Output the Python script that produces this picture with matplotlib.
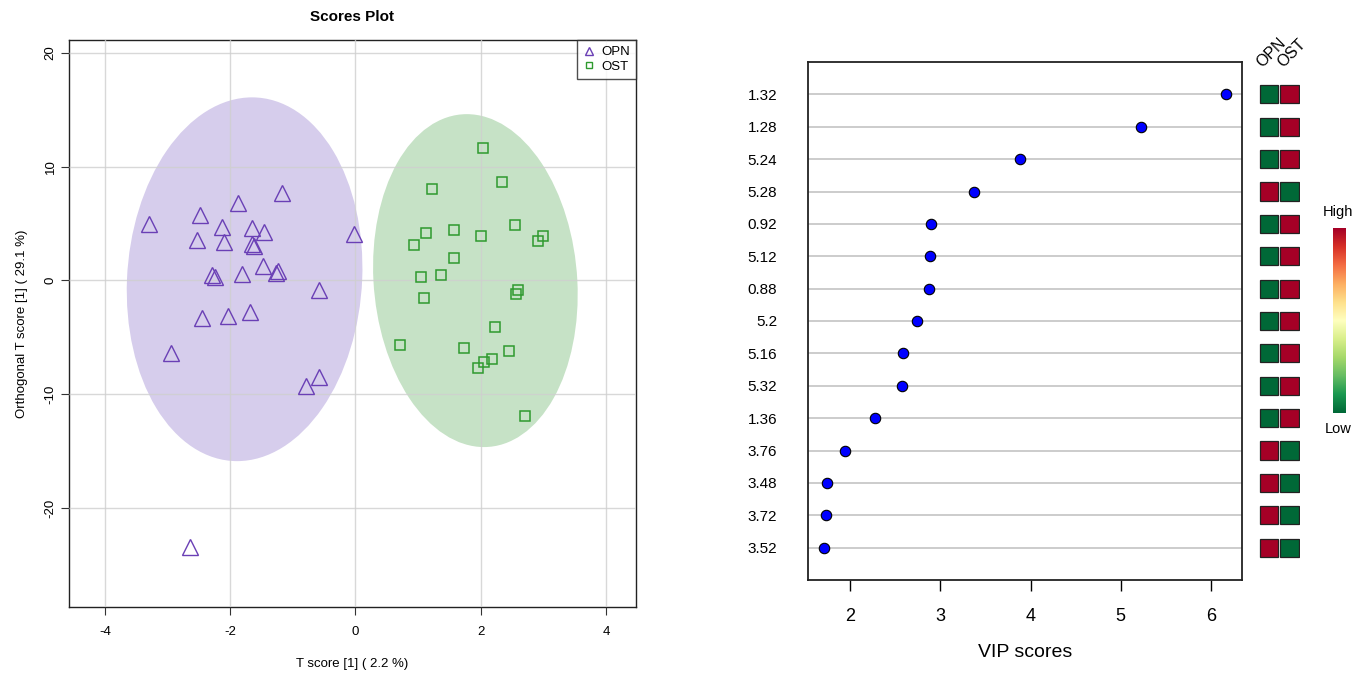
import numpy as np
import matplotlib
matplotlib.use("Agg")
import matplotlib.pyplot as plt
from matplotlib.patches import Ellipse, Rectangle
from matplotlib.lines import Line2D

plt.rcParams['font.family'] = ['Liberation Sans', 'DejaVu Sans']
plt.rcParams['axes.unicode_minus'] = False

# ---------------- data: scores plot ----------------
opn_t = [-3.29, -2.49, -2.53, -2.13, -2.10, -1.87, -1.18, -1.66, -1.46, -1.65, -1.62, -0.02,
         -2.29, -2.24, -1.81, -1.48, -1.27, -1.23, -0.58, -2.45, -2.03, -1.69, -2.94, -0.79,
         -0.59, -2.65]
opn_o = [5.0, 5.8, 3.6, 4.7, 3.4, 6.85, 7.7, 4.6, 4.3, 3.2, 3.0, 4.1,
         0.5, 0.3, 0.6, 1.3, 0.7, 0.8, -0.8, -3.3, -3.1, -2.8, -6.4, -9.3,
         -8.5, -23.4]
ost_t = [2.04, 2.34, 1.23, 2.54, 1.58, 1.12, 2.00, 2.99, 2.92, 0.94, 1.57, 1.37,
         1.04, 2.60, 2.56, 1.09, 2.23, 0.71, 1.74, 2.45, 2.18, 2.06, 1.96, 2.70]
ost_o = [11.68, 8.68, 8.06, 4.91, 4.41, 4.15, 3.88, 3.91, 3.47, 3.09, 2.0, 0.44,
         0.29, -0.85, -1.2, -1.53, -4.1, -5.66, -5.92, -6.22, -6.92, -7.16, -7.71, -11.94]
groups = ['OPN', 'OST']
x_label = 'T score [1] ( 2.2 %)'
y_label = 'Orthogonal T score [1] ( 29.1 %)'

# ---------------- data: VIP plot ----------------
features = ['1.32', '1.28', '5.24', '5.28', '0.92', '5.12', '0.88', '5.2',
            '5.16', '5.32', '1.36', '3.76', '3.48', '3.72', '3.52']
vip = [6.167, 5.229, 3.883, 3.370, 2.895, 2.886, 2.878, 2.742,
       2.591, 2.578, 2.276, 1.947, 1.742, 1.737, 1.715]
# relative level per group (0 = low, 1 = high)
level_opn = [0, 0, 0, 1, 0, 0, 0, 0, 0, 0, 0, 1, 1, 1, 1]
level_ost = [1, 1, 1, 0, 1, 1, 1, 1, 1, 1, 1, 0, 0, 0, 0]

W, H = 1367, 673
fig = plt.figure(figsize=(W / 100, H / 100), dpi=100)

def fr(x0, y0, x1, y1):
    return [x0 / W, 1 - y1 / H, (x1 - x0) / W, (y1 - y0) / H]

# ---------------- left: scores plot ----------------
ax = fig.add_axes(fr(69, 40, 636, 607))
ax.set_xlim(-4.575, 4.48)
ax.set_ylim(-28.7, 21.14)

purple = '#6a3fb5'
green = '#2e9a2e'
fills = ['#d6cdec', '#c6e2c6']

def conf_ellipse(x, y, color):
    x = np.asarray(x); y = np.asarray(y)
    cov = np.cov(x, y)
    vals, vecs = np.linalg.eigh(cov)
    order = vals.argsort()[::-1]
    vals, vecs = vals[order], vecs[:, order]
    ang = np.degrees(np.arctan2(vecs[1, 0], vecs[0, 0]))
    k = np.sqrt(5.991)
    e = Ellipse((x.mean(), y.mean()), 2 * k * np.sqrt(vals[0]), 2 * k * np.sqrt(vals[1]),
                angle=ang, facecolor=color, edgecolor='none', zorder=1)
    ax.add_patch(e)

conf_ellipse(opn_t, opn_o, fills[0])
conf_ellipse(ost_t, ost_o, fills[1])

ax.set_xticks([-4, -2, 0, 2, 4])
ax.set_yticks([-20, -10, 0, 10, 20])
ax.grid(True, color='#cfcfcf', lw=1.0, zorder=2)
ax.set_axisbelow(False)
for gl in ax.get_xgridlines() + ax.get_ygridlines():
    gl.set_zorder(2)
    gl.set_alpha(0.8)

ax.plot(opn_t, opn_o, linestyle='none', marker='^', markersize=11, markerfacecolor='none',
        markeredgecolor=purple, markeredgewidth=1.0, zorder=3)
ax.plot(ost_t, ost_o, linestyle='none', marker='s', markersize=7.5, markerfacecolor='none',
        markeredgecolor=green, markeredgewidth=1.1, zorder=3)

ax.tick_params(axis='both', labelsize=9.5, length=6, width=0.8, color='#333333')
ax.tick_params(axis='x', pad=8)
ax.tick_params(axis='y', pad=3)
for lab in ax.get_yticklabels():
    lab.set_rotation(90)
    lab.set_va('center')
for s in ax.spines.values():
    s.set_linewidth(1.0)
    s.set_color('#222222')
ax.set_xlabel(x_label, fontsize=9.5, labelpad=14)
ax.set_ylabel(y_label, fontsize=9.5, labelpad=12)
ax.set_title('Scores Plot', fontsize=11, fontweight='bold', pad=14)

handles = [Line2D([], [], linestyle='none', marker='^', markersize=6, markerfacecolor='none',
                  markeredgecolor=purple, markeredgewidth=1.0),
           Line2D([], [], linestyle='none', marker='s', markersize=4.5, markerfacecolor='none',
                  markeredgecolor=green, markeredgewidth=1.0)]
leg = ax.legend(handles, groups, loc='upper right', fontsize=9.5, frameon=True, fancybox=False,
                borderaxespad=0, handlelength=1.0, handletextpad=0.4, borderpad=0.45,
                labelspacing=0.2)
leg.get_frame().set_edgecolor('#222222')
leg.get_frame().set_linewidth(1.0)

# ---------------- right: VIP plot ----------------
n = len(features)
ypos = np.arange(n, 0, -1)
bx = fig.add_axes(fr(808, 62, 1242, 580))
bx.set_xlim(1.535, 6.343)
bx.set_ylim(0, 16)
for yy in ypos:
    bx.axhline(yy, color='#cccccc', lw=1.4, zorder=1)
bx.plot(vip, ypos, linestyle='none', marker='o', markersize=7.5, markerfacecolor='#0000ff',
        markeredgecolor='black', markeredgewidth=0.8, zorder=3)
bx.set_yticks(ypos)
bx.set_yticklabels(features)
bx.set_xticks([2, 3, 4, 5, 6])
bx.tick_params(axis='y', length=0, pad=22, labelsize=11)
bx.tick_params(axis='x', length=8, width=1.0, pad=12, labelsize=13)
for s in bx.spines.values():
    s.set_linewidth(1.3)
    s.set_color('#222222')
bx.set_xlabel('VIP scores', fontsize=14, labelpad=14)

# heat cells
cmap = plt.get_cmap('RdYlGn_r')
hx = fig.add_axes(fr(1259, 62, 1300, 580))
hx.set_xlim(0, 2)
hx.set_ylim(0, 16)
hx.axis('off')
for j, lev in enumerate([level_opn, level_ost]):
    for yy, v in zip(ypos, lev):
        hx.add_patch(Rectangle((j + 0.04, yy - 0.28), 0.9, 0.56, facecolor=cmap(float(v)),
                               edgecolor='#222222', lw=0.9))
fig.text(1264 / W, 1 - 70 / H, groups[0], rotation=45, rotation_mode='anchor',
         ha='left', va='bottom', fontsize=11.5)
fig.text(1285 / W, 1 - 70 / H, groups[1], rotation=45, rotation_mode='anchor',
         ha='left', va='bottom', fontsize=11.5)

# colour key
cx = fig.add_axes(fr(1332.5, 228, 1345, 413))
grad = np.linspace(0, 1, 256).reshape(-1, 1)
cx.imshow(grad, aspect='auto', cmap=cmap, origin='lower', extent=[0, 1, 0, 1])
cx.axis('off')
fig.text(1338 / W, 1 - 212 / H, 'High', ha='center', va='center', fontsize=10.5)
fig.text(1338.5 / W, 1 - 429 / H, 'Low', ha='center', va='center', fontsize=10.5)

fig.savefig('out.png', dpi=100)
